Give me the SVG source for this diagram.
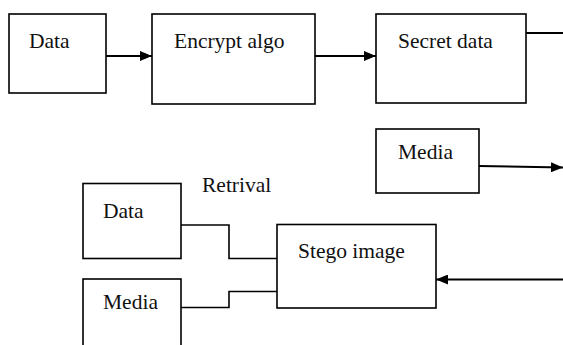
<svg xmlns="http://www.w3.org/2000/svg" width="563" height="345" viewBox="0 0 563 345">
  <style>
    .box { fill: #ffffff; stroke: #000000; stroke-width: 1.6; }
    .lbl { font-family: "Liberation Serif", "Times New Roman", serif; font-size: 21.5px; fill: #111111; }
    .wire { fill: none; stroke: #000000; stroke-width: 2; }
    .thin { fill: none; stroke: #000000; stroke-width: 1.6; }
  </style>
  <defs>
    <marker id="arrow" markerUnits="userSpaceOnUse" markerWidth="12" markerHeight="10" refX="12" refY="5" orient="auto">
      <path d="M0,0 L12,5 L0,10 Z" fill="#000000"/>
    </marker>
  </defs>
  <rect width="563" height="345" fill="#ffffff"/>

  <g id="connectors">
    <line class="wire" x1="106" y1="56" x2="152" y2="56" marker-end="url(#arrow)"/>
    <line class="wire" x1="315" y1="56" x2="376" y2="56" marker-end="url(#arrow)"/>
    <line class="wire" x1="526" y1="33" x2="563" y2="33"/>
    <line class="wire" x1="479" y1="166" x2="563" y2="167.5" marker-end="url(#arrow)"/>
    <line class="wire" x1="563" y1="279.5" x2="436" y2="279.5" marker-end="url(#arrow)"/>
    <polyline class="thin" points="181,225 229,225 229,258.5 277,258.5"/>
    <polyline class="thin" points="181,307.5 229,307.5 229,291.5 277,291.5"/>
  </g>

  <g id="data">
    <rect class="box" x="9" y="14" width="97" height="79"/>
    <text class="lbl" x="29" y="48">Data</text>
  </g>
  <g id="encrypt-algo">
    <rect class="box" x="152" y="14" width="163" height="90"/>
    <text class="lbl" x="174" y="48">Encrypt algo</text>
  </g>
  <g id="secret-data">
    <rect class="box" x="376" y="14" width="150" height="89"/>
    <text class="lbl" x="398" y="48">Secret data</text>
  </g>
  <g id="media-in">
    <rect class="box" x="376" y="129" width="103" height="64"/>
    <text class="lbl" x="398" y="159">Media</text>
  </g>
  <g id="retrival-label">
    <text class="lbl" x="202" y="192">Retrival</text>
  </g>
  <g id="data-out">
    <rect class="box" x="83" y="183.5" width="98" height="75"/>
    <text class="lbl" x="103" y="218">Data</text>
  </g>
  <g id="media-out">
    <rect class="box" x="83" y="279" width="98" height="70"/>
    <text class="lbl" x="103" y="309">Media</text>
  </g>
  <g id="stego-image">
    <rect class="box" x="277" y="224.5" width="159" height="83.5"/>
    <text class="lbl" x="298" y="258">Stego image</text>
  </g>
</svg>
